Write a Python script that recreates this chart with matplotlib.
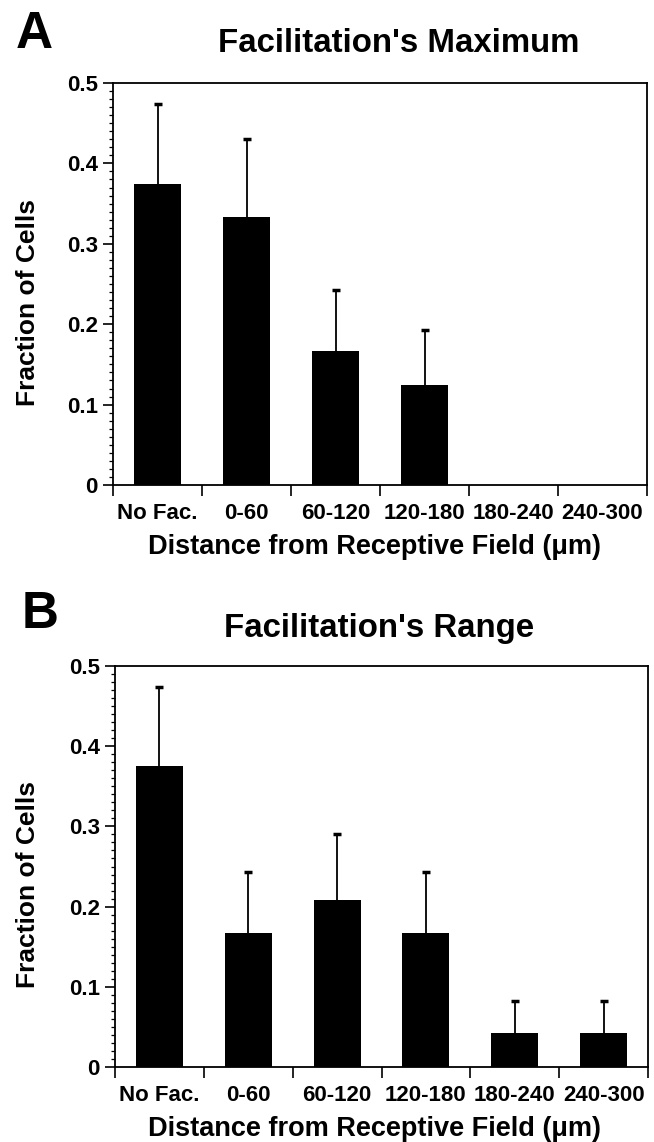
import numpy as np
import matplotlib
matplotlib.use('Agg')
import matplotlib.pyplot as plt
from matplotlib.ticker import MultipleLocator

# ---------------- data ----------------
categories = ['No Fac.', '0-60', '60-120', '120-180', '180-240', '240-300']
max_values = [0.375, 0.333, 0.167, 0.125, 0.0, 0.0]
max_errors = [0.099, 0.097, 0.076, 0.068, np.nan, np.nan]
range_values = [0.375, 0.167, 0.208, 0.167, 0.042, 0.042]
range_errors = [0.099, 0.076, 0.083, 0.076, 0.040, 0.040]
yticks = [0, 0.1, 0.2, 0.3, 0.4, 0.5]
ytick_labels = ['0', '0.1', '0.2', '0.3', '0.4', '0.5']
titles = ["Facilitation's Maximum", "Facilitation's Range"]
panel_letters = ['A', 'B']
xlabel_text = 'Distance from Receptive Field (\u03bcm)'
ylabel_text = 'Fraction of Cells'

# ---------------- style ----------------
plt.rcParams['font.family'] = ['Liberation Sans', 'DejaVu Sans']
plt.rcParams['font.weight'] = 'bold'

W, H = 654, 1142
fig = plt.figure(figsize=(W / 100, H / 100), dpi=100)


def fx(px):
    return px / W


def fy(py):
    return 1 - py / H


# axes boxes in pixel coords: left, top, right, bottom
boxes = [(113, 83, 647, 485), (115, 666, 648, 1067)]
letter_pos = [(16, 48), (22, 628)]
title_pos = [(218, 52), (224, 637)]
panels = [(max_values, max_errors), (range_values, range_errors)]

for i, (vals, errs) in enumerate(panels):
    l, t, r, b = boxes[i]
    ax = fig.add_axes([fx(l), fy(b), (r - l) / W, (b - t) / H])
    vals = np.array(vals, dtype=float)
    errs = np.array(errs, dtype=float)
    x = np.arange(len(categories)) + 0.5
    ax.bar(x, vals, width=0.53, color='black', zorder=2)
    m = ~np.isnan(errs)
    eb = ax.errorbar(x[m], vals[m], yerr=[np.zeros(m.sum()), errs[m]], fmt='none',
                     ecolor='black', elinewidth=1.3, capsize=3, capthick=2.5, zorder=3)
    # hide the lower caps (one-sided error bars)
    caps = eb[1]
    if len(caps) > 0:
        caps[0].set_visible(False)
    ax.set_xlim(0, len(categories))
    ax.set_ylim(0, 0.5)
    ax.set_xticks(np.arange(len(categories) + 1))
    ax.set_xticklabels([])
    ax.set_xticks(x, minor=True)
    ax.set_xticklabels(categories, minor=True)
    ax.tick_params(axis='x', which='major', direction='out', length=8, width=1.2)
    ax.tick_params(axis='x', which='minor', length=0, pad=13, labelsize=16)
    ax.set_yticks(yticks)
    ax.set_yticklabels(ytick_labels)
    ax.yaxis.set_minor_locator(MultipleLocator(0.01))
    ax.tick_params(axis='y', which='major', direction='out', length=7.5, width=1.2,
                   pad=3.5, labelsize=16)
    ax.tick_params(axis='y', which='minor', direction='out', length=3, width=0.9)
    for s in ax.spines.values():
        s.set_linewidth(1.3)

    fig.text(fx(letter_pos[i][0]), fy(letter_pos[i][1]), panel_letters[i],
             fontsize=37, fontweight='bold', ha='left', va='baseline')
    fig.text(fx(title_pos[i][0]), fy(title_pos[i][1]), titles[i],
             fontsize=23.8, fontweight='bold', ha='left', va='baseline')
    fig.text(fx(375), fy(b + 62), xlabel_text, fontsize=19.5, fontweight='bold',
             ha='center', va='center')
    fig.text(fx(28), fy((t + b) / 2 + 18), ylabel_text, fontsize=19,
             fontweight='bold', rotation=90, ha='center', va='center')

fig.savefig('out.png', dpi=100, facecolor='white')
